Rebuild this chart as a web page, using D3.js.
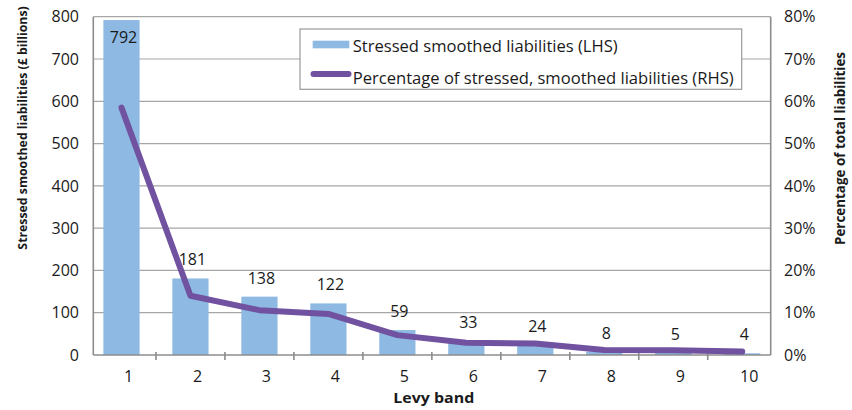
<!DOCTYPE html>
<html><head><meta charset="utf-8">
<script src="https://cdn.jsdelivr.net/npm/d3@7"></script>
<style>
html,body{margin:0;padding:0;background:#fff;}
svg{display:block;font-family:"Open Sans",sans-serif;}
.title{font-family:"Open Sans",sans-serif;font-weight:bold;}
</style></head>
<body><svg id="c" width="852" height="410"></svg>
<script>
const categories = ["1","2","3","4","5","6","7","8","9","10"];
const liabilities = [792,181,138,122,59,33,24,8,5,4];
const percentages = [58.5,14.0,10.6,9.7,4.7,2.9,2.7,1.2,1.1,0.8];
const leftTicks = [0,100,200,300,400,500,600,700,800];
const rightTicks = [0,10,20,30,40,50,60,70,80];
const seriesNames = ["Stressed smoothed liabilities (LHS)","Percentage of stressed, smoothed liabilities (RHS)"];

const svg = d3.select("#c");
const frame = {left:93.3, right:770.7, top:16.7, bottom:355};
const barColor = "#8DB9E2", lineColor = "#7152A0", gridColor = "#a6a6a6", axisColor = "#8c8c8c";
const txt = "#1a1a1a", fs = 16;

const x = d3.scaleBand().domain(categories).range([87, 776.7]).paddingInner(0.475).paddingOuter(0.2375);
const yL = d3.scaleLinear().domain([0,800]).range([frame.bottom, frame.top]);
const yR = d3.scaleLinear().domain([0,80]).range([frame.bottom, frame.top]);
const cx = c => x(c) + x.bandwidth()/2;

// gridlines
svg.append("g").selectAll("line").data(leftTicks.slice(1)).join("line")
  .attr("x1", frame.left).attr("x2", frame.right)
  .attr("y1", d=>yL(d)).attr("y2", d=>yL(d))
  .attr("stroke", gridColor).attr("stroke-width",1.2);

// bars
svg.append("g").selectAll("rect").data(liabilities).join("rect")
  .attr("x",(d,i)=>x(categories[i])).attr("width",x.bandwidth())
  .attr("y",d=>yL(d)).attr("height",d=>yL(0)-yL(d))
  .attr("fill",barColor);

// frame: left, right, bottom
const ax = svg.append("g").attr("stroke",axisColor).attr("stroke-width",1.6);
ax.append("line").attr("x1",frame.left).attr("x2",frame.left).attr("y1",frame.top).attr("y2",frame.bottom);
ax.append("line").attr("x1",frame.right).attr("x2",frame.right).attr("y1",frame.top).attr("y2",frame.bottom);
ax.append("line").attr("x1",frame.left).attr("x2",frame.right).attr("y1",frame.bottom).attr("y2",frame.bottom);
ax.selectAll("line.t").data(categories.slice(1)).join("line").attr("class","t")
  .attr("x1",d=>x(d)-x.step()*x.paddingInner()/2).attr("x2",d=>x(d)-x.step()*x.paddingInner()/2)
  .attr("y1",frame.bottom-3).attr("y2",frame.bottom+5);

// line
svg.append("path").datum(percentages)
  .attr("d", d3.line().x((d,i)=>cx(categories[i])).y(d=>yR(d)))
  .attr("fill","none").attr("stroke",lineColor).attr("stroke-width",6)
  .attr("stroke-linecap","round").attr("stroke-linejoin","round");

// data labels
svg.append("g").selectAll("text").data(liabilities).join("text")
  .attr("x",(d,i)=>cx(categories[i])+2)
  .attr("y",(d,i)=> i===0 ? yL(d)+23 : yL(d)-13)
  .attr("text-anchor","middle").attr("font-size",fs).attr("fill",txt)
  .text(d=>d);

// left tick labels
svg.append("g").selectAll("text").data(leftTicks).join("text")
  .attr("x",79).attr("y",d=>yL(d)).attr("dy","0.36em")
  .attr("text-anchor","end").attr("font-size",fs).attr("fill",txt)
  .text(d=>d);
// right tick labels
svg.append("g").selectAll("text").data(rightTicks).join("text")
  .attr("x",784).attr("y",d=>yR(d)).attr("dy","0.36em")
  .attr("text-anchor","start").attr("font-size",fs).attr("fill",txt)
  .text(d=>d+"%");
// category labels
svg.append("g").selectAll("text").data(categories).join("text")
  .attr("x",d=>cx(d)+7).attr("y",381.5)
  .attr("text-anchor","middle").attr("font-size",fs).attr("fill",txt)
  .text(d=>d);

// axis titles
svg.append("text").attr("class","title").attr("transform","translate(27,128) rotate(-90)")
  .attr("text-anchor","middle").attr("font-size",12.3).attr("fill",txt)
  .text("Stressed smoothed liabilities (£ billions)");
svg.append("text").attr("class","title").attr("transform","translate(845,148.5) rotate(-90)")
  .attr("text-anchor","middle").attr("font-size",14).attr("fill",txt)
  .attr("textLength",193).attr("lengthAdjust","spacingAndGlyphs")
  .text("Percentage of total liabilities");
svg.append("text").attr("class","title").attr("x",433.8).attr("y",403.3)
  .attr("text-anchor","middle").attr("font-size",15).attr("fill",txt)
  .attr("textLength",81).attr("lengthAdjust","spacingAndGlyphs")
  .text("Levy band");

// legend
const lg = svg.append("g");
lg.append("rect").attr("x",300).attr("y",29).attr("width",441.7).attr("height",60.3)
  .attr("fill","#fff").attr("stroke","#999").attr("stroke-width",1.2);
lg.append("rect").attr("x",312.7).attr("y",40.7).attr("width",36.6).attr("height",7.6).attr("fill",barColor);
lg.append("line").attr("x1",313.5).attr("x2",348.5).attr("y1",74).attr("y2",74)
  .attr("stroke",lineColor).attr("stroke-width",6).attr("stroke-linecap","round");
lg.selectAll("text.l").data(seriesNames).join("text").attr("class","l")
  .attr("x",352.7).attr("y",(d,i)=>52+i*31.5)
  .attr("font-size",fs).attr("fill",txt)
  .attr("textLength",(d,i)=>[265,381][i]).attr("lengthAdjust","spacingAndGlyphs")
  .text(d=>d);
</script></body></html>
